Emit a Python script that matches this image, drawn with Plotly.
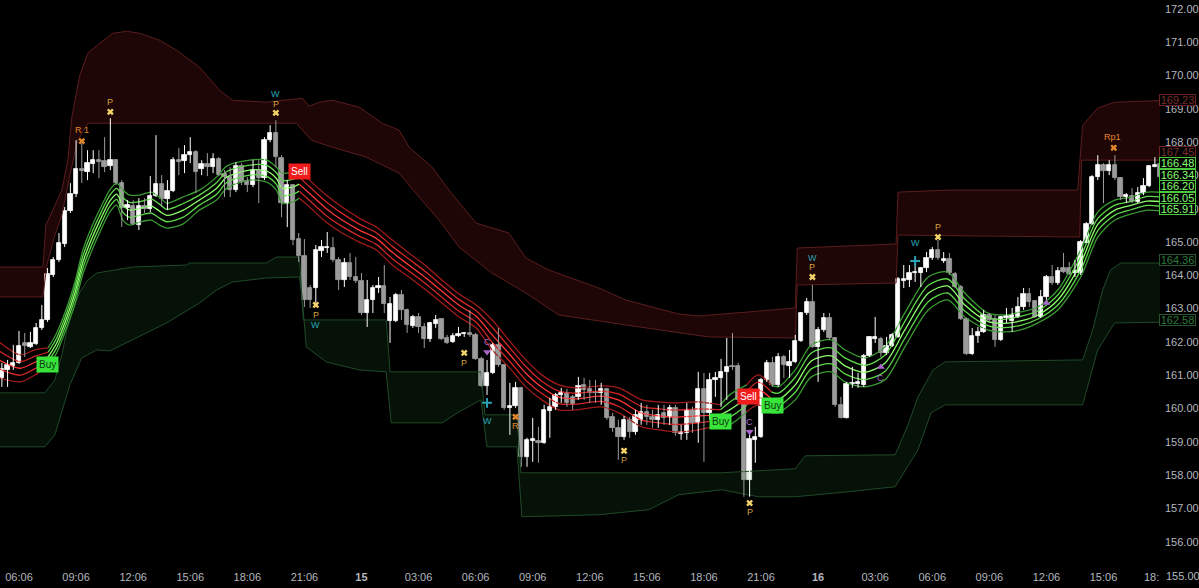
import plotly.graph_objects as go

# ---------------- data ----------------
bar_idx = list(range(204))

open_ = [160.92,161.16,161.28,161.37,161.97,161.85,161.94,162.42,162.66,164.01,
 164.46,164.94,165.93,166.44,167.19,167.10,167.34,167.46,167.43,167.28,
 167.46,166.77,166.02,166.08,165.51,166.08,165.99,166.38,166.74,166.29,
 166.53,167.46,167.43,167.61,167.70,167.19,167.34,167.25,167.49,167.04,
 166.95,166.56,167.28,166.83,166.71,167.16,166.92,168.06,168.27,167.52,
 166.17,166.71,165.09,164.58,163.62,163.62,164.73,164.82,164.82,164.46,
 163.86,164.37,163.95,163.83,162.87,163.26,163.62,163.68,162.63,162.63,
 163.41,162.96,162.48,162.75,162.45,162.09,162.54,162.69,162.12,162.00,
 162.18,162.24,162.27,162.21,161.49,160.68,161.07,161.91,161.31,160.02,
 160.08,160.62,158.55,159.03,159.03,158.97,159.93,160.05,160.41,160.47,
 160.35,160.35,160.71,160.59,160.50,160.47,160.59,159.75,159.42,159.15,
 159.66,159.30,159.66,159.90,159.75,159.66,159.87,159.75,160.02,159.24,
 159.27,159.96,159.57,160.59,159.87,160.86,160.92,161.10,161.28,161.28,
 160.26,157.86,159.06,159.15,160.86,161.37,160.71,161.55,161.28,161.40,
 162.03,162.87,163.20,161.85,162.36,162.72,162.12,160.11,159.72,160.74,
 160.74,160.71,161.58,162.09,162.09,161.67,161.88,162.15,163.83,163.86,
 164.07,164.07,164.22,164.52,164.76,164.43,164.49,164.04,163.65,162.69,
 161.64,162.18,162.30,162.81,162.69,162.06,162.72,162.63,162.75,163.05,
 163.44,163.23,162.75,163.35,163.95,163.77,164.22,164.22,164.07,164.07,
 164.97,165.54,166.95,167.31,167.13,167.31,166.92,166.35,166.38,166.20,
 166.47,166.68,167.25,167.34]
high_ = [161.37,161.46,161.91,162.33,162.27,162.30,162.57,163.11,164.22,164.55,
 165.27,166.05,166.77,168.06,167.97,167.76,167.76,167.76,168.15,168.72,
 167.49,166.86,166.26,166.26,166.32,166.32,166.98,168.21,167.01,166.86,
 167.55,167.82,167.91,168.15,167.76,167.46,167.67,167.67,167.55,167.16,
 167.25,167.40,167.37,166.95,167.46,167.46,168.15,168.51,168.66,167.61,
 166.86,166.74,165.27,165.09,163.71,164.91,165.06,165.30,165.15,164.55,
 164.52,164.67,164.55,164.07,163.86,163.71,163.95,164.31,163.35,163.47,
 163.56,163.00,162.81,162.87,162.57,162.60,162.81,162.72,162.21,162.27,
 162.45,162.30,162.96,162.27,161.55,161.46,161.97,162.42,161.34,160.77,
 160.80,160.65,159.12,159.72,159.45,160.11,160.32,160.47,160.62,160.59,
 160.41,160.95,160.92,160.86,160.86,160.77,160.62,159.87,159.66,159.78,
 159.75,159.96,160.17,160.11,159.96,160.11,160.11,160.11,160.11,159.51,
 160.17,160.05,161.10,161.07,161.07,161.10,161.49,162.12,162.27,161.37,
 160.35,159.36,159.45,160.92,161.46,161.55,161.67,161.61,161.76,162.21,
 162.90,163.32,163.71,162.45,162.87,162.87,162.15,160.35,160.80,161.25,
 161.07,161.64,162.18,162.75,162.15,162.15,162.27,163.95,164.31,164.31,
 164.37,164.25,164.70,164.85,165.06,164.70,164.67,164.10,163.71,162.72,
 162.42,162.45,162.96,162.87,162.81,162.78,163.02,163.02,163.35,163.62,
 163.62,163.26,163.56,164.01,164.31,164.25,164.67,164.40,164.46,165.06,
 165.60,167.01,167.61,167.37,167.46,167.61,166.95,166.47,166.62,166.65,
 166.92,167.31,167.55,167.46]
low_ = [160.65,160.65,161.16,161.34,161.55,161.82,161.91,162.36,162.60,163.95,
 164.40,164.85,165.87,166.35,166.77,166.86,167.07,166.92,167.10,167.16,
 166.71,165.45,165.66,165.51,165.36,165.87,165.90,166.35,166.05,165.96,
 166.50,167.01,167.07,167.37,166.47,167.01,166.98,167.07,166.98,166.35,
 166.35,166.50,166.71,166.50,166.65,166.17,166.86,168.00,167.25,165.75,
 165.45,164.91,164.40,163.05,163.02,163.17,164.55,164.67,164.40,163.56,
 163.65,163.86,163.77,162.81,162.45,162.87,163.47,162.87,161.97,162.60,
 162.66,162.27,162.42,162.27,161.82,162.00,162.42,162.06,161.94,161.97,
 162.15,162.15,162.15,161.46,160.65,160.41,161.04,161.25,159.96,159.21,
 160.02,158.25,158.25,158.40,158.37,158.94,159.12,159.96,160.17,160.05,
 159.96,160.26,160.26,160.17,160.17,160.11,159.66,159.30,158.46,159.06,
 159.12,159.21,159.51,159.51,159.42,159.42,159.51,159.51,159.18,159.06,
 159.06,159.27,158.97,158.40,159.66,160.35,160.05,160.26,161.16,160.20,
 157.35,157.35,158.37,159.12,160.80,160.65,160.65,160.92,160.92,161.37,
 162.00,162.81,161.82,160.80,162.30,162.06,160.05,159.70,159.70,160.62,
 160.62,160.65,161.55,161.97,161.55,161.61,161.85,162.12,163.62,163.65,
 163.80,163.65,164.10,164.46,164.46,164.37,164.01,163.62,162.66,161.61,
 161.61,161.97,162.27,162.57,161.85,162.03,162.57,162.30,162.72,162.96,
 163.05,162.72,162.72,163.26,163.71,163.71,164.07,164.01,163.95,164.01,
 164.97,165.51,166.86,166.17,167.01,166.86,166.26,166.17,166.17,166.17,
 166.41,166.65,167.25,166.86]
close_ = [161.19,161.31,161.37,161.88,161.88,161.97,162.42,162.66,164.04,164.46,
 164.97,165.93,166.44,167.19,167.13,167.37,167.46,167.40,167.25,167.46,
 166.77,166.02,166.11,165.54,166.08,165.99,166.38,166.74,166.29,166.53,
 167.46,167.40,167.61,167.70,167.10,167.34,167.25,167.49,167.01,166.95,
 166.56,167.28,166.80,166.71,167.16,166.92,168.06,168.27,167.55,166.17,
 166.71,165.06,164.58,163.26,163.26,164.76,164.85,164.85,164.46,163.86,
 164.37,163.95,163.83,162.87,163.26,163.62,163.68,163.14,163.14,163.41,
 162.96,162.51,162.75,162.45,162.09,162.57,162.66,162.09,161.97,162.18,
 162.24,162.27,162.21,161.49,160.68,161.07,161.91,161.31,160.02,160.08,
 160.62,158.55,159.06,159.09,158.97,159.96,160.05,160.41,160.47,160.17,
 160.14,160.68,160.56,160.47,160.47,160.59,159.72,159.42,159.15,159.66,
 159.30,159.81,159.90,159.75,159.66,159.81,159.72,160.02,159.27,159.30,
 159.96,159.57,160.59,159.87,160.86,160.92,161.10,161.25,161.25,160.26,
 157.86,159.09,159.15,160.86,161.37,160.71,161.55,161.31,161.40,162.03,
 162.87,163.20,161.85,162.36,162.72,162.12,160.11,159.72,160.74,160.77,
 160.80,161.58,162.15,162.15,161.67,161.88,162.21,163.89,163.89,164.07,
 164.10,164.22,164.52,164.76,164.52,164.49,164.07,163.65,162.69,161.64,
 162.18,162.30,162.81,162.66,162.06,162.75,162.78,162.81,163.05,163.44,
 163.20,162.75,163.35,163.95,163.77,164.13,164.10,164.04,164.13,165.00,
 165.54,166.95,167.31,167.13,167.31,166.92,166.35,166.41,166.20,166.47,
 166.68,167.28,167.31,166.95]

# time axis labels (every 10 bars of 18 min)
tick_idx = [3, 13, 23, 33, 43, 53, 63, 73, 83, 93, 103, 113, 123, 133, 143, 153, 163, 173, 183, 193]
tick_text = ["06:06", "09:06", "12:06", "15:06", "18:06", "21:06", "<b>15</b>", "03:06", "06:06", "09:06",
             "12:06", "15:06", "18:06", "21:06", "<b>16</b>", "03:06", "06:06", "09:06", "12:06", "15:06"]
price_ticks = [156, 157, 158, 159, 160, 161, 162, 163, 164, 165, 166, 167, 168, 169, 170, 171, 172]

# resistance zone (red) edges
red_top_x = [-1, 7.19, 7.71, 9.28, 10.51, 11.56, 12.26, 13.65, 15.05, 17.15, 19.42, 21.87, 24.14, 27.64, 30.61,
             34.63, 38.13, 40.40, 46.35, 52.64, 53.86, 55.61, 57.88, 62.60, 66.62, 69.60, 71.35, 75.37, 78.34,
             83.06, 88.83, 91.80, 95.82, 104.56, 109.28, 118.55, 122.05, 130.79, 139.00, 139.35, 148.27, 156.66,
             157.01, 165.75, 174.49, 188.48, 189.35, 191.97, 194.95, 205]
red_top_y = [164.25, 164.25, 165.51, 166.11, 166.56, 167.46, 168.75, 170.01, 170.67, 170.97, 171.27, 171.33,
             171.27, 171.06, 170.76, 170.25, 169.56, 169.26, 169.20, 169.32, 169.08, 169.20, 169.26, 169.05,
             168.57, 168.36, 167.85, 167.25, 166.56, 165.57, 165.27, 164.52, 164.16, 163.62, 163.26, 162.84,
             162.78, 162.90, 163.02, 164.82, 164.88, 164.94, 166.50, 166.56, 166.56, 166.56, 168.51, 169.02,
             169.20, 169.26]
red_bot_x = [-1, 7.19, 7.88, 9.28, 10.51, 11.91, 13.30, 15.05, 51.59, 54.21, 57.88, 63.83, 69.60, 73.10, 76.59,
             80.09, 85.86, 91.80, 97.57, 109.28, 123.80, 139.00, 139.35, 156.66, 157.01, 188.83, 189.18, 205]
red_bot_y = [163.35, 163.35, 164.31, 165.21, 165.81, 167.01, 168.06, 168.57, 168.57, 168.06, 167.85, 167.55,
             167.07, 166.35, 165.66, 164.85, 164.07, 163.47, 162.81, 162.51, 162.15, 162.12, 163.71, 163.77,
             165.21, 165.15, 167.46, 167.46]

# support zone (green) edges
grn_top_x = [-1, 7.53, 9.28, 10.51, 11.38, 12.26, 13.65, 15.05, 16.63, 22.92, 32.36, 32.88, 46.35, 48.09, 52.12,
             52.81, 67.33, 68.02, 83.93, 84.63, 90.23, 90.93, 126.07, 139.00, 140.75, 156.49, 158.76, 160.50,
             163.13, 165.23, 189.35, 191.10, 192.85, 194.25, 196.00, 205]
grn_top_y = [160.47, 160.47, 160.86, 161.61, 162.36, 162.87, 163.50, 163.86, 164.07, 164.25, 164.31, 164.37,
             164.37, 164.55, 164.55, 162.66, 162.66, 161.10, 161.10, 159.81, 159.81, 158.07, 158.07, 158.19,
             158.58, 158.61, 159.51, 160.35, 161.16, 161.40, 161.46, 162.36, 163.56, 164.16, 164.37, 164.37]
grn_bot_x = [-1, 7.53, 9.28, 10.51, 11.91, 14.00, 16.63, 18.90, 22.92, 28.86, 34.63, 37.61, 40.40, 46.35, 52.12,
             52.64, 53.34, 56.83, 62.60, 67.33, 68.20, 77.12, 80.09, 83.93, 84.98, 90.23, 91.10, 104.56, 113.30,
             118.55, 126.07, 132.53, 139.00, 148.27, 156.49, 160.50, 162.78, 165.23, 189.35, 191.97, 194.95, 205]
grn_bot_y = [158.85, 158.85, 159.21, 159.90, 160.71, 161.52, 161.76, 161.73, 162.06, 162.57, 163.17, 163.56,
             163.80, 163.92, 163.95, 163.26, 161.85, 161.40, 161.16, 161.10, 159.57, 159.57, 159.90, 160.26,
             158.85, 158.85, 156.75, 156.81, 156.96, 157.41, 157.56, 157.35, 157.35, 157.50, 157.65, 158.76,
             159.87, 160.11, 160.11, 161.76, 162.57, 162.60]

# trend ribbon: 5 lines sampled at bar positions
rib_x = [-0.5, 3.2, 5.8, 8.1, 9.6, 11.4, 12.8, 14.2, 15.8, 17.1, 18.9, 20.1, 21.2, 22.4, 24.1, 26.2, 27.6, 28.9,
         31.7, 34.6, 37.6, 39.4, 43.4, 46.4, 48.1, 49.1, 50.9, 52.1, 53.9, 56.8, 59.6, 62.6, 65.6, 68.4, 71.3,
         74.3, 77.1, 80.1, 83.1, 85.9, 88.8, 91.8, 94.6, 97.6, 100.5, 105.1, 108.1, 112.1, 115.1, 118.0, 122.0,
         125.9, 127.5, 130.5, 132.5, 134.8, 136.0, 139.0, 141.8, 145.3, 147.7, 151.2, 154.7, 158.2, 162.3, 165.7,
         168.7, 172.7, 175.7, 178.5, 181.5, 185.0, 189.0, 192.0, 195.0, 197.8, 200.7, 204.0]
rib_1 = [162.00, 161.61, 161.76, 161.82, 162.27, 163.05, 163.80, 164.76, 165.48, 165.96, 166.56, 166.77, 166.56,
         166.41, 166.41, 166.50, 166.35, 166.17, 166.35, 166.56, 166.95, 167.28, 167.46, 167.46, 167.25, 167.07,
         167.10, 167.16, 166.86, 166.41, 166.05, 165.72, 165.45, 165.06, 164.67, 164.28, 163.86, 163.44, 163.11,
         162.66, 162.06, 161.46, 161.01, 160.71, 160.62, 160.68, 160.62, 160.26, 160.20, 160.17, 160.20, 160.11,
         160.41, 160.71, 161.01, 160.71, 160.65, 161.16, 161.91, 162.06, 161.76, 161.52, 161.85, 162.87, 163.95,
         164.10, 163.47, 162.87, 162.81, 162.90, 163.05, 163.56, 164.76, 165.90, 166.26, 166.35, 166.50, 166.48]
rib_2 = [161.73, 161.41, 161.57, 161.69, 162.12, 162.90, 163.64, 164.58, 165.30, 165.79, 166.40, 166.61, 166.34,
         166.19, 166.21, 166.29, 166.14, 165.98, 166.15, 166.41, 166.78, 167.12, 167.31, 167.30, 167.08, 166.85,
         166.88, 166.95, 166.66, 166.21, 165.86, 165.54, 165.28, 164.87, 164.49, 164.10, 163.69, 163.27, 162.94,
         162.44, 161.86, 161.26, 160.82, 160.52, 160.46, 160.52, 160.43, 160.06, 159.99, 159.95, 159.99, 159.96,
         160.19, 160.51, 160.79, 160.50, 160.46, 160.94, 161.67, 161.82, 161.52, 161.30, 161.60, 162.62, 163.70,
         163.89, 163.29, 162.74, 162.68, 162.77, 162.93, 163.41, 164.56, 165.71, 166.11, 166.22, 166.37, 166.34]
rib_3 = [161.46, 161.21, 161.39, 161.55, 161.97, 162.75, 163.47, 164.40, 165.12, 165.62, 166.23, 166.44, 166.11,
         165.96, 166.01, 166.08, 165.93, 165.80, 165.95, 166.26, 166.61, 166.95, 167.16, 167.13, 166.91, 166.62,
         166.65, 166.74, 166.46, 166.01, 165.66, 165.36, 165.11, 164.69, 164.31, 163.92, 163.52, 163.10, 162.77,
         162.21, 161.66, 161.06, 160.64, 160.34, 160.29, 160.37, 160.25, 159.86, 159.78, 159.74, 159.78, 159.81,
         159.96, 160.31, 160.56, 160.29, 160.26, 160.71, 161.43, 161.58, 161.28, 161.09, 161.36, 162.36, 163.46,
         163.68, 163.11, 162.62, 162.56, 162.63, 162.81, 163.26, 164.36, 165.53, 165.96, 166.10, 166.23, 166.20]
rib_4 = [161.19, 161.00, 161.20, 161.42, 161.82, 162.60, 163.31, 164.22, 164.94, 165.44, 166.07, 166.28, 165.89,
         165.74, 165.80, 165.87, 165.72, 165.61, 165.74, 166.11, 166.43, 166.79, 167.01, 166.97, 166.73, 166.40,
         166.43, 166.53, 166.25, 165.80, 165.47, 165.18, 164.93, 164.50, 164.13, 163.74, 163.34, 162.92, 162.59,
         161.99, 161.45, 160.85, 160.45, 160.15, 160.13, 160.21, 160.06, 159.65, 159.57, 159.52, 159.57, 159.66,
         159.74, 160.10, 160.34, 160.08, 160.07, 160.49, 161.19, 161.34, 161.04, 160.87, 161.11, 162.11, 163.21,
         163.47, 162.93, 162.49, 162.43, 162.50, 162.69, 163.11, 164.15, 165.34, 165.81, 165.97, 166.10, 166.05]
rib_5 = [160.92, 160.80, 161.01, 161.28, 161.67, 162.45, 163.14, 164.04, 164.76, 165.27, 165.90, 166.11, 165.66,
         165.51, 165.60, 165.66, 165.51, 165.42, 165.54, 165.96, 166.26, 166.62, 166.86, 166.80, 166.56, 166.17,
         166.20, 166.32, 166.05, 165.60, 165.27, 165.00, 164.76, 164.31, 163.95, 163.56, 163.17, 162.75, 162.42,
         161.76, 161.25, 160.65, 160.26, 159.96, 159.96, 160.05, 159.87, 159.45, 159.36, 159.30, 159.36, 159.51,
         159.51, 159.90, 160.11, 159.87, 159.87, 160.26, 160.95, 161.10, 160.80, 160.65, 160.86, 161.85, 162.96,
         163.26, 162.75, 162.36, 162.30, 162.36, 162.57, 162.96, 163.95, 165.15, 165.66, 165.84, 165.96, 165.91]
# sample positions where the trend flips; first segment is bearish
rib_flip = [0, 3, 27, 51, 53, 55, 77]

# Buy / Sell signals
sig_bar = [8.05, 52.1, 125.9, 130.8, 135.0]
sig_price = [161.31, 167.11, 159.60, 160.35, 160.08]
sig_text = ["Buy", "Sell", "Buy", "Sell", "Buy"]

# pivot / pattern markers
xmark_bar = [19, 48, 55, 81, 109, 131, 142, 164]
xmark_price = [168.91, 168.88, 163.11, 161.67, 158.73, 157.16, 163.95, 165.15]
omark_bar = [14, 90, 194.8]
omark_price = [168.03, 159.75, 167.83]
tri_dn_bar = [85, 131]
tri_dn_price = [161.70, 159.30]
tri_up_bar = [154, 183]
tri_up_price = [161.25, 163.17]
plus_bar = [85, 160]
plus_price = [160.17, 164.43]
let_text = ["R 1", "P", "W", "P", "P", "W", "P", "C", "W", "R", "P", "C", "P", "W", "P", "C", "W", "P", "Rp1"]
let_bar = [14, 19, 48, 48, 55, 55, 81, 85, 85, 90, 109, 131, 131, 142, 142, 154, 160, 164, 194.6]
let_price = [168.37, 169.21, 169.44, 169.15, 162.81, 162.52, 161.37, 162.00, 159.63, 159.48, 158.46, 159.60,
             156.89, 164.51, 164.24, 160.92, 164.97, 165.45, 168.16]

# right-edge value tags
tag_value = [169.23, 167.45, 166.48, 166.34, 166.20, 166.05, 165.91, 164.36, 162.58]
tag_pos = [169.27, 167.71, 167.38, 167.02, 166.68, 166.32, 165.99, 164.46, 162.66]

# ---------------- styling ----------------
FONT = "Liberation Sans, Arial, sans-serif"
AX = "#b4b7bf"
C_P, C_X, C_R, C_W, C_C = "#d8a23e", "#f2d36a", "#e3862a", "#2aa3b5", "#a865cc"
GREENS = ["#3a9a32", "#5fd84a", "#8cff6a", "#5fd84a", "#3a9a32"]
REDS = ["#a01a1a", "#d42626", "#ff3636", "#d42626", "#a01a1a"]
UP, DN = "#ffffff", "#9c9c9c"

fig = go.Figure()

# zones
fig.add_trace(go.Scatter(x=red_top_x + red_bot_x[::-1], y=red_top_y + red_bot_y[::-1], mode="lines",
                         fill="toself", fillcolor="rgba(150,30,30,0.20)",
                         line=dict(color="#5b1d1d", width=1), hoverinfo="skip"))
fig.add_trace(go.Scatter(x=grn_top_x + grn_bot_x[::-1], y=grn_top_y + grn_bot_y[::-1], mode="lines",
                         fill="toself", fillcolor="rgba(40,130,60,0.14)",
                         line=dict(color="#1f4a27", width=1), hoverinfo="skip"))

# ribbon
lines = [rib_1, rib_2, rib_3, rib_4, rib_5]
for s in range(len(rib_flip) - 1):
    a, b = rib_flip[s], rib_flip[s + 1]
    pal = REDS if s % 2 == 0 else GREENS
    for k, ln in enumerate(lines):
        fig.add_trace(go.Scatter(x=rib_x[a:b + 1], y=ln[a:b + 1], mode="lines",
                                 line=dict(color=pal[k], width=1.3, shape="spline", smoothing=0.8),
                                 hoverinfo="skip"))

# candles: wicks then bodies
up = [c > o for o, c in zip(open_, close_)]
for flag, col in ((True, UP), (False, DN)):
    wx, wy = [], []
    for i in bar_idx:
        if up[i] == flag:
            wx += [i, i, None]
            wy += [low_[i], high_[i], None]
    fig.add_trace(go.Scatter(x=wx, y=wy, mode="lines", line=dict(color=col, width=1), hoverinfo="skip"))
body_base = [min(o, c) for o, c in zip(open_, close_)]
body_len = [abs(c - o) for o, c in zip(open_, close_)]
body_col = [UP if u else DN for u in up]
fig.add_trace(go.Bar(x=bar_idx, y=body_len, base=body_base, width=0.76,
                     marker=dict(color=body_col, line=dict(color=body_col, width=0.8)), hoverinfo="skip"))

# markers
fig.add_trace(go.Scatter(x=xmark_bar, y=xmark_price, mode="markers",
                         marker=dict(symbol="x", size=6, color=C_X, line=dict(width=0))))
fig.add_trace(go.Scatter(x=omark_bar, y=omark_price, mode="markers",
                         marker=dict(symbol="x", size=6, color=C_R, line=dict(width=0))))
fig.add_trace(go.Scatter(x=tri_dn_bar, y=tri_dn_price, mode="markers",
                         marker=dict(symbol="triangle-down", size=7, color=C_C)))
fig.add_trace(go.Scatter(x=tri_up_bar, y=tri_up_price, mode="markers",
                         marker=dict(symbol="triangle-up", size=7, color=C_C)))
fig.add_trace(go.Scatter(x=plus_bar, y=plus_price, mode="markers",
                         marker=dict(symbol="cross-thin", size=7, line=dict(color=C_W, width=2))))

ann = []
col_map = {"P": C_P, "W": C_W, "C": C_C, "R": C_R, "R 1": C_R, "Rp1": C_R}
for t, xb, yp in zip(let_text, let_bar, let_price):
    ann.append(dict(x=xb, y=yp, xref="x", yref="y", text=t, showarrow=False,
                    font=dict(family=FONT, size=9, color=col_map[t])))

for t, xb, yp in zip(sig_text, sig_bar, sig_price):
    buy = t == "Buy"
    ann.append(dict(x=xb, y=yp, xref="x", yref="y", text=t, showarrow=False,
                    bgcolor="#39e43a" if buy else "#f01c1c", borderpad=2,
                    font=dict(family=FONT, size=10, color="#0e3a0e" if buy else "#ffffff")))

for v, pos in zip(tag_value, tag_pos):
    if v > 167:
        bc, fc = "#6a2222", "#7a2c2c"
    elif v > 165:
        bc, fc = "#48c93a", "#86ff70"
    else:
        bc, fc = "#27552f", "#2f7a3c"
    ann.append(dict(x=1, xref="paper", xanchor="left", xshift=-1, y=pos, yref="y", text=f"{v:.2f}",
                    showarrow=False, bgcolor="#000000", bordercolor=bc, borderwidth=1, borderpad=0,
                    width=35, height=10, font=dict(family=FONT, size=11, color=fc)))

ann.append(dict(x=1, xref="paper", xanchor="left", xshift=4, y=-0.0231, yref="paper", text="155.00",
                showarrow=False, yanchor="middle", font=dict(family=FONT, size=11, color=AX)))
ann.append(dict(x=1, xref="paper", xanchor="right", xshift=1, y=-0.025, yref="paper", text="18:",
                showarrow=False, yanchor="middle", font=dict(family=FONT, size=11, color=AX)))

fig.update_layout(
    width=1199, height=588, margin=dict(l=0, r=37, t=0, b=25),
    paper_bgcolor="#000000", plot_bgcolor="#000000", showlegend=False, hovermode=False,
    annotations=ann, font=dict(family=FONT, size=11, color=AX), bargap=0,
    xaxis=dict(range=[-0.33, 202.9], tickvals=tick_idx, ticktext=tick_text, showgrid=False, zeroline=False,
               showline=False, ticks="", ticklabelstandoff=6, tickfont=dict(family=FONT, size=11, color=AX)),
    yaxis=dict(side="right", range=[155.36, 172.27], tickvals=price_ticks,
               ticktext=[f"{v:.2f}" for v in price_ticks], showgrid=False, zeroline=False, showline=False,
               ticks="", ticklabelstandoff=4, tickfont=dict(family=FONT, size=11, color=AX)),
)

fig.write_html("out.html", config={"displayModeBar": False},
               post_script="document.body.style.margin='0px';document.body.style.background='#000';")
